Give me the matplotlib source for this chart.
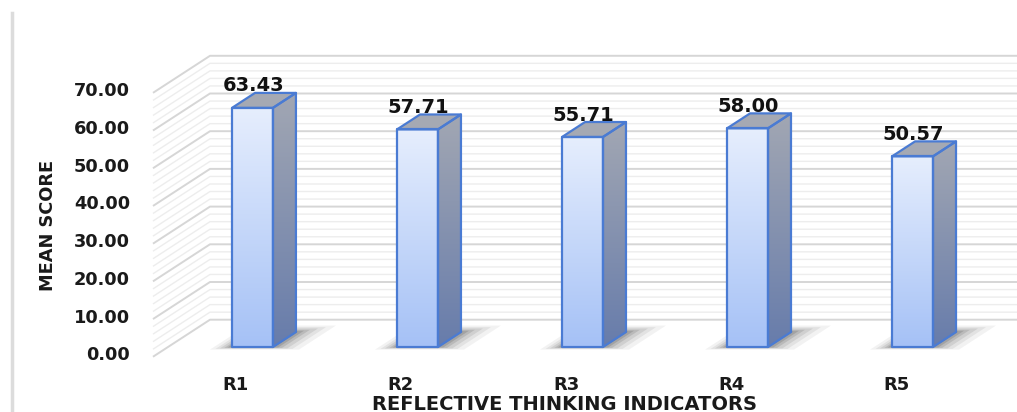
import numpy as np
import matplotlib.pyplot as plt
from matplotlib.patches import Polygon
from matplotlib.lines import Line2D
from matplotlib.colors import LinearSegmentedColormap

# datos del grafico
categorias = ["R1", "R2", "R3", "R4", "R5"]
puntajes = [63.43, 57.71, 55.71, 58.00, 50.57]
ticks_y = [0, 10, 20, 30, 40, 50, 60, 70]
ticks_menores = [v for v in range(0, 71, 2) if v % 10 != 0]

plt.rcParams['font.family'] = ['DejaVu Sans']
plt.rcParams['font.weight'] = 'bold'

# proyeccion oblicua (profundidad z en pixeles horizontales)
KX = 1 / 165.0
KY = 0.65 / 3.77
ANCHO = 0.248
Z_BARRA = 23
Z_FRENTE = -15
Z_FONDO = 42
X_PARED = -0.512
XMIN, XMAX = -1.530, 4.633


def P(x, y, z):
    return (x + z * KX, y + z * KY)


def relleno_gradiente(ax, verts, c_arriba, c_abajo, z):
    poly = Polygon(verts, closed=True, fc='none', ec='none')
    ax.add_patch(poly)
    xs, ys = zip(*verts)
    cmap = LinearSegmentedColormap.from_list('g', [c_abajo, c_arriba])
    img = ax.imshow(np.linspace(0, 1, 256).reshape(-1, 1), cmap=cmap,
                    extent=(min(xs), max(xs), min(ys), max(ys)), origin='lower',
                    aspect='auto', interpolation='bicubic', zorder=z)
    img.set_clip_path(poly)


fig = plt.figure(figsize=(10.17, 4.12), dpi=100)
ax = fig.add_axes([0, 0, 1, 1])
ax.axis('off')

# lineas de cuadricula (pared lateral + pared de fondo)
for v in ticks_menores + ticks_y:
    mayor = v in ticks_y
    pts = [P(X_PARED, v, Z_FRENTE), P(X_PARED, v, Z_FONDO), (XMAX, v + Z_FONDO * KY)]
    xs, ys = zip(*pts)
    ax.plot(xs, ys, color='#d6d6d6' if mayor else '#ededed',
            lw=1.4 if mayor else 1.0, zorder=1, solid_capstyle='butt')

# barras
for i, (cat, v) in enumerate(zip(categorias, puntajes)):
    x0, x1 = i - ANCHO / 2, i + ANCHO / 2

    # sombra en el piso
    for e, a in [(20, 0.06), (15, 0.08), (11, 0.1), (7, 0.13), (4, 0.16), (1, 0.2)]:
        izq, der = e * 0.9 * KX, e * 1.5 * KX
        sombra = [P(x0 - izq, 0, -e * 0.2), P(x1 + der, 0, -e * 0.2),
                  P(x1 + der, 0, Z_BARRA + e * 0.5), P(x0 - izq, 0, Z_BARRA + e * 0.5)]
        ax.add_patch(Polygon(sombra, closed=True, fc='#2a2a2a', ec='none', alpha=a, zorder=2))

    frente = [(x0, 0), (x1, 0), (x1, v), (x0, v)]
    lado = [(x1, 0), P(x1, 0, Z_BARRA), P(x1, v, Z_BARRA), (x1, v)]
    tapa = [(x0, v), (x1, v), P(x1, v, Z_BARRA), P(x0, v, Z_BARRA)]

    relleno_gradiente(ax, lado, '#a2a7b3', '#677cab', 3)
    relleno_gradiente(ax, frente, '#e6eefd', '#a5c1f6', 3)
    ax.add_patch(Polygon(tapa, closed=True, fc='#a5a9b3', ec='none', zorder=3))
    for cara in (lado, tapa, frente):
        ax.add_patch(Polygon(cara, closed=True, fc='none', ec='#4a7bd3', lw=1.6,
                             joinstyle='round', zorder=4))

    # etiqueta de valor
    ax.text(i + 0.005, v + 5.8, f"{v:.2f}", ha='center', va='center',
            fontsize=14, color='#111111', zorder=5)
    # etiqueta de categoria
    ax.text(i - 0.10, -10.1, cat, ha='center', va='center', fontsize=13,
            color='#1a1a1a', zorder=5)

# etiquetas del eje y
for v in ticks_y:
    ax.text(-0.742, v - 2.2, f"{v:.2f}", ha='right', va='center', fontsize=12.8,
            color='#1a1a1a', zorder=5)

ax.set_xlim(XMIN, XMAX)
ax.set_ylim(-17.24, 92.04)

fig.text(565 / 1017, 1 - 404 / 412, "REFLECTIVE THINKING INDICATORS", ha='center',
         va='center', fontsize=14, color='#1a1a1a')
fig.text(48 / 1017, 1 - 225 / 412, "MEAN SCORE", ha='center', va='center',
         rotation=90, fontsize=12.8, color='#1a1a1a')

# borde izquierdo del grafico
fig.add_artist(Line2D([11.5 / 1017] * 2, [0, 1 - 13 / 412], color='#dcdcdc', lw=2.5))

plt.savefig("out.png", dpi=100)
